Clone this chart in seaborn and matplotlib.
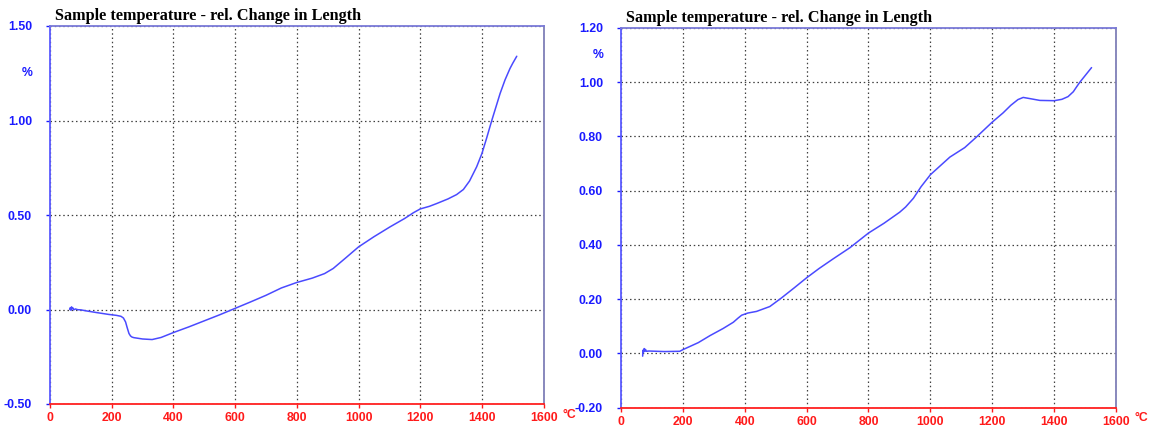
import matplotlib
matplotlib.use("Agg")
import matplotlib.pyplot as plt
import matplotlib.transforms as mtransforms
import seaborn as sns
import pandas as pd

sns.set_style("white")
plt.rcParams["font.family"] = ["Liberation Sans", "DejaVu Sans"]

TITLE = "Sample temperature - rel. Change in Length"

# Run 1: temperature (°C) vs relative change in length (%)
temp_a = [64, 66, 68, 70, 72, 74, 77, 82, 90, 100, 120, 150, 190, 215, 230, 238,
          245, 250, 256, 261, 266, 272, 280, 300, 331, 360, 400, 450, 500, 550,
          600, 650, 700, 750, 800, 850, 890, 918, 960, 1000, 1050, 1102, 1150,
          1178, 1200, 1230, 1254, 1290, 1318, 1340, 1360, 1383, 1400, 1415, 1432,
          1459, 1475, 1491, 1500, 1513]
dl_a = [0.000, 0.010, -0.004, 0.014, 0.004, 0.009, -0.002, 0.003, -0.001, -0.002,
        -0.008, -0.016, -0.026, -0.031, -0.036, -0.045, -0.066, -0.095, -0.127,
        -0.140, -0.146, -0.149, -0.151, -0.156, -0.159, -0.148, -0.122, -0.092,
        -0.060, -0.028, 0.006, 0.040, 0.075, 0.114, 0.143, 0.166, 0.190, 0.217,
        0.275, 0.331, 0.385, 0.437, 0.482, 0.512, 0.532, 0.546, 0.561, 0.585,
        0.608, 0.635, 0.680, 0.755, 0.825, 0.905, 1.000, 1.143, 1.215, 1.275,
        1.303, 1.340]

# Run 2
temp_b = [70, 71, 73, 75, 77, 79, 82, 90, 140, 190, 200, 250, 288, 330, 363, 378,
          390, 410, 438, 481, 519, 560, 600, 640, 686, 740, 800, 850, 901, 920,
          945, 970, 1000, 1030, 1063, 1111, 1149, 1200, 1235, 1260, 1283, 1300,
          1320, 1354, 1400, 1425, 1445, 1462, 1472, 1483, 1521]
dl_b = [-0.010, 0.012, 0.005, 0.018, 0.008, 0.015, 0.008, 0.009, 0.007, 0.008,
        0.014, 0.040, 0.066, 0.092, 0.115, 0.130, 0.141, 0.149, 0.155, 0.173,
        0.205, 0.242, 0.279, 0.313, 0.349, 0.390, 0.444, 0.480, 0.521, 0.540,
        0.572, 0.615, 0.659, 0.690, 0.724, 0.759, 0.798, 0.853, 0.887, 0.915,
        0.936, 0.944, 0.940, 0.933, 0.932, 0.937, 0.947, 0.965, 0.982, 1.000,
        1.054]

x_ticks = [0, 200, 400, 600, 800, 1000, 1200, 1400, 1600]
y_ticks_a = [-0.50, 0.00, 0.50, 1.00, 1.50]
y_ticks_b = [-0.20, 0.00, 0.20, 0.40, 0.60, 0.80, 1.00, 1.20]

LINE = "#4a4aff"
YCOL = "#1a1aff"
XCOL = "#ff1a1a"

fig = plt.figure(figsize=(11.57, 4.28), dpi=100)
ax_a = fig.add_axes([50 / 1157, 1 - 404 / 428, 493.6 / 1157, 378 / 428])
ax_b = fig.add_axes([621 / 1157, 1 - 407.7 / 428, 495 / 1157, 379.7 / 428])


def style(ax, temps, vals, yticks):
    df = pd.DataFrame({"T": temps, "dL": vals})
    sns.lineplot(data=df, x="T", y="dL", ax=ax, color=LINE, linewidth=1.1,
                 sort=False, estimator=None)
    ax.set_xlim(x_ticks[0], x_ticks[-1])
    ax.set_ylim(yticks[0], yticks[-1])
    ax.set_xticks(x_ticks)
    ax.set_yticks(yticks)
    ax.set_xticklabels([str(t) for t in x_ticks])
    ax.set_yticklabels([f"{v:.2f}" for v in yticks])
    ax.set_xlabel("")
    ax.set_ylabel("")
    ax.grid(True, linestyle=(0, (1.2, 2.2)), color="#404040", linewidth=0.9)
    ax.tick_params(axis="y", colors=YCOL, length=3, width=1, pad=10,
                   labelsize=8.8, direction="out", left=True)
    ax.tick_params(axis="x", colors=XCOL, length=3, width=1, pad=3,
                   labelsize=8.8, direction="out", bottom=True)
    for lab in ax.get_xticklabels() + ax.get_yticklabels():
        lab.set_fontweight("bold")
    ax.spines["left"].set_color("#5a5aff")
    ax.spines["top"].set_color("#7a7ad8")
    ax.spines["right"].set_color("#7f7fb8")
    ax.spines["bottom"].set_color("#ff2020")
    for s in ax.spines.values():
        s.set_linewidth(1.3)
        s.set_visible(True)
    ax.annotate(TITLE, xy=(0, 1), xycoords="axes fraction", xytext=(3.6, 4.3),
                textcoords="offset points", ha="left", va="baseline",
                fontsize=11.7, fontweight="bold", color="black",
                family=["Liberation Serif", "DejaVu Serif"])
    # unit labels
    pct_y = (yticks[-1] + yticks[-2]) / 2
    tr = mtransforms.blended_transform_factory(ax.transAxes, ax.transData)
    ax.annotate("%", xy=(0, pct_y), xycoords=tr, xytext=(-16.5, 0),
                textcoords="offset points", ha="center", va="center",
                fontsize=8.8, fontweight="bold", color=YCOL)
    ax.annotate("°C", xy=(1, 0), xycoords="axes fraction", xytext=(18.5, -7.6),
                textcoords="offset points", ha="center", va="center",
                fontsize=8.8, fontweight="bold", color=XCOL)


style(ax_a, temp_a, dl_a, y_ticks_a)
style(ax_b, temp_b, dl_b, y_ticks_b)

fig.savefig("out.png", dpi=100)
